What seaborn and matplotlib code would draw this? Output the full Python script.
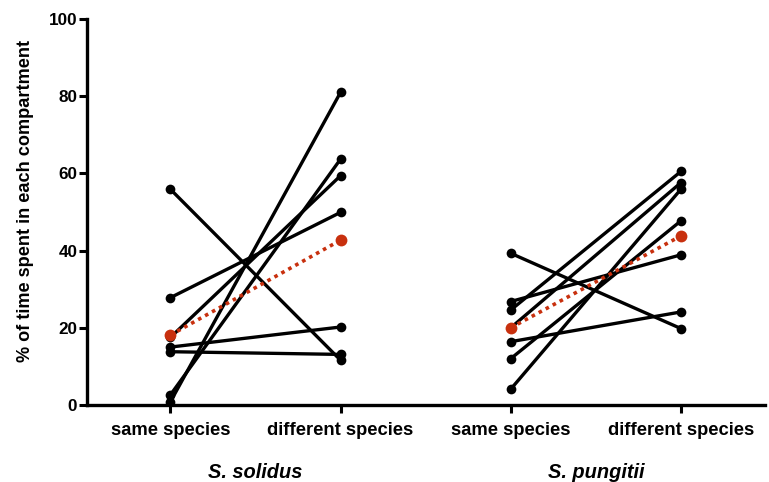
import numpy as np
import pandas as pd
import matplotlib
matplotlib.use("Agg")
import matplotlib.pyplot as plt
import seaborn as sns

# values (% of time in compartment)
conditions = ["same species", "different species"]
parasites = ["S. solidus", "S. pungitii"]

solidus_same = [55.9, 27.8, 17.5, 15.0, 13.8, 2.6, 0.8]
solidus_diff = [11.6, 49.9, 59.4, 20.2, 13.1, 63.7, 81.0]
pungitii_same = [39.3, 26.8, 24.6, 20.0, 16.4, 12.0, 4.1]
pungitii_diff = [19.8, 38.9, 60.5, 57.6, 24.1, 47.7, 55.9]

solidus_mean = [18.1, 42.7]
pungitii_mean = [20.0, 43.8]

# long table: one row per fish per condition
rows = []
for g, (same, diff) in enumerate([(solidus_same, solidus_diff), (pungitii_same, pungitii_diff)]):
    for i, (a, b) in enumerate(zip(same, diff)):
        rows.append({"fish": f"{g}_{i}", "pos": 2 * g, "pct": a})
        rows.append({"fish": f"{g}_{i}", "pos": 2 * g + 1, "pct": b})
df = pd.DataFrame(rows)

df_mean = pd.DataFrame({
    "group": ["sol", "sol", "pun", "pun"],
    "pos": [0, 1, 2, 3],
    "pct": solidus_mean + pungitii_mean,
})

sns.set_style("ticks")
plt.rcParams["font.family"] = ["Liberation Sans", "DejaVu Sans"]
plt.rcParams["font.weight"] = "bold"
for key in ["text.color", "axes.labelcolor", "xtick.color", "ytick.color", "axes.edgecolor"]:
    plt.rcParams[key] = "black"

fig = plt.figure(figsize=(7.69, 4.82), dpi=100)
ax = fig.add_axes([0.1131, 0.1598, 0.8817, 0.8008])

sns.lineplot(data=df, x="pos", y="pct", units="fish", estimator=None,
             color="black", lw=2.4, marker="o", markersize=7,
             markeredgewidth=0, ax=ax, legend=False)

red = "#C8300E"
sns.lineplot(data=df_mean, x="pos", y="pct", units="group", estimator=None,
             color=red, lw=2.6, linestyle=(0, (1, 1.2)), marker="o",
             markersize=8.5, markeredgewidth=0, ax=ax, legend=False, zorder=5)

ax.set_xlim(-0.49, 3.494)
ax.set_ylim(0, 100)
ax.set_yticks([0, 20, 40, 60, 80, 100])
ax.set_xticks([0, 1, 2, 3])
ax.set_xticklabels(conditions * 2, fontsize=13.2, fontweight="bold")
ax.tick_params(axis="y", labelsize=12.3, width=2.2, length=6, pad=1)
ax.tick_params(axis="x", width=2.2, length=6, pad=6)
for lab in ax.get_yticklabels():
    lab.set_fontweight("bold")

ax.set_xlabel("")
ax.set_ylabel("% of time spent in each compartment", fontsize=13.1,
              fontweight="bold")
ax.yaxis.set_label_coords(-0.078, 0.528)

for side in ["left", "bottom"]:
    ax.spines[side].set_linewidth(2.4)
sns.despine(ax=ax)

for g, name in enumerate(parasites):
    ax.text(2 * g + 0.5, -0.176, name, transform=ax.get_xaxis_transform(),
            ha="center", va="center", fontsize=14.4, fontweight="bold",
            fontstyle="italic")

fig.savefig("out.png", dpi=100)
